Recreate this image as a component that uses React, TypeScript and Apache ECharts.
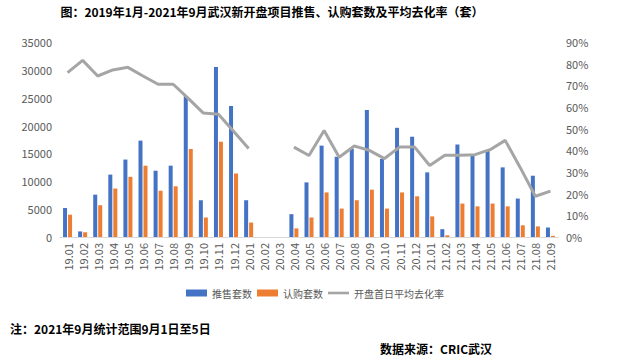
import React, { useEffect, useRef } from "react";
import * as echarts from "echarts";

const categories = [
  "19.01", "19.02", "19.03", "19.04", "19.05", "19.06", "19.07", "19.08", "19.09", "19.10", "19.11", "19.12",
  "20.01", "20.02", "20.03", "20.04", "20.05", "20.06", "20.07", "20.08", "20.09", "20.10", "20.11", "20.12",
  "21.01", "21.02", "21.03", "21.04", "21.05", "21.06", "21.07", "21.08", "21.09",
];

const launched = [
  5200, 1000, 7600, 11200, 13900, 17300, 11900, 12800, 25300, 6600, 30500, 23500,
  6600, null, null, 4100, 9800, 16400, 14400, 15800, 22800, 14000, 19600, 18000,
  11600, 1400, 16600, 14600, 15500, 12500, 6900, 11000, 1700,
];

const subscribed = [
  4000, 850, 5700, 8700, 10800, 12800, 8300, 9100, 15800, 3500, 17100, 11400,
  2600, null, null, 1550, 3500, 8000, 5100, 6600, 8500, 5100, 8000, 7300,
  3700, 300, 6000, 5500, 6000, 5500, 2100, 1900, 200,
];

const absorptionRate = [
  75.9, 81.5, 74.3, 77.1, 78.3, 74.3, 70.5, 70.5, 64.0, 57.2, 56.6, 48.8,
  40.8, null, null, 41.5, 37.6, 49.2, 36.8, 42.0, 40.0, 36.2, 41.5, 41.5,
  33.0, 37.7, 37.7, 38.0, 40.3, 44.6, 32.0, 18.8, 21.2,
];

const seriesNames = ["推售套数", "认购套数", "开盘首日平均去化率"];
const titleText = "图：2019年1月-2021年9月武汉新开盘项目推售、认购套数及平均去化率（套）";
const noteText = "注：2021年9月统计范围9月1日至5日";
const sourceText = "数据来源：CRIC武汉";

const FONT = "'Noto Sans CJK SC', 'Noto Sans', sans-serif";
const AXIS_COLOR = "#595959";
const LINE_ICON = "path://M0,0 M24,8 M0,2.5 L24,2.5 L24,5.5 L0,5.5 Z";

export default function App() {
  const ref = useRef<HTMLDivElement>(null);

  useEffect(() => {
    document.body.style.margin = "0";
    if (!ref.current) return;
    const chart = echarts.init(ref.current, null, { renderer: "svg" });
    chart.setOption({
      animation: false,
      backgroundColor: "#ffffff",
      textStyle: { fontFamily: FONT },
      grid: { left: 60, right: 72, top: 42, bottom: 125, containLabel: false },
      legend: {
        bottom: 59,
        left: "center",
        itemWidth: 21,
        itemHeight: 7,
        itemGap: 5,
        textStyle: { fontSize: 10, color: AXIS_COLOR, fontFamily: FONT },
        data: [
          { name: seriesNames[0], icon: "rect" },
          { name: seriesNames[1], icon: "rect" },
          { name: seriesNames[2], icon: LINE_ICON },
        ],
      },
      xAxis: {
        type: "category",
        data: categories,
        axisLine: { show: true, lineStyle: { color: "#D9D9D9", width: 1 } },
        axisTick: { show: false },
        axisLabel: {
          rotate: 90,
          interval: 0,
          margin: 6,
          fontSize: 11,
          color: AXIS_COLOR,
          fontFamily: FONT,
        },
      },
      yAxis: [
        {
          type: "value",
          min: 0,
          max: 35000,
          interval: 5000,
          axisLine: { show: false },
          axisTick: { show: false },
          splitLine: { show: false },
          axisLabel: {
            fontSize: 11,
            color: AXIS_COLOR,
            margin: 8,
            fontFamily: FONT,
            formatter: (v: number) => String(v),
          },
        },
        {
          type: "value",
          min: 0,
          max: 90,
          interval: 10,
          position: "right",
          axisLine: { show: false },
          axisTick: { show: false },
          splitLine: { show: false },
          axisLabel: { fontSize: 11, color: AXIS_COLOR, margin: 8, formatter: "{value}%", fontFamily: FONT },
        },
      ],
      series: [
        {
          name: seriesNames[0],
          type: "bar",
          data: launched,
          barWidth: 4,
          barGap: "25%",
          itemStyle: { color: "#4472C4" },
        },
        {
          name: seriesNames[1],
          type: "bar",
          data: subscribed,
          barWidth: 4,
          barGap: "25%",
          itemStyle: { color: "#ED7D31" },
        },
        {
          name: seriesNames[2],
          type: "line",
          yAxisIndex: 1,
          data: absorptionRate,
          symbol: "none",
          connectNulls: false,
          lineStyle: { color: "#A5A5A5", width: 3 },
          itemStyle: { color: "#A5A5A5" },
        },
      ],
      graphic: [
        {
          type: "text",
          x: 272,
          y: 11,
          style: {
            text: titleText,
            fontSize: 12,
            fontWeight: "bold",
            fill: "#000000",
            fontFamily: FONT,
            align: "center",
            verticalAlign: "middle",
          },
        },
        {
          type: "text",
          x: 10,
          y: 328,
          style: {
            text: noteText,
            fontSize: 12,
            fontWeight: "bold",
            fill: "#000000",
            fontFamily: FONT,
            align: "left",
            verticalAlign: "middle",
          },
        },
        {
          type: "text",
          x: 492,
          y: 348,
          style: {
            text: sourceText,
            fontSize: 12,
            fontWeight: "bold",
            fill: "#000000",
            fontFamily: FONT,
            align: "right",
            verticalAlign: "middle",
          },
        },
      ],
    });
    return () => chart.dispose();
  }, []);

  return <div ref={ref} style={{ width: 630, height: 362 }} />;
}
